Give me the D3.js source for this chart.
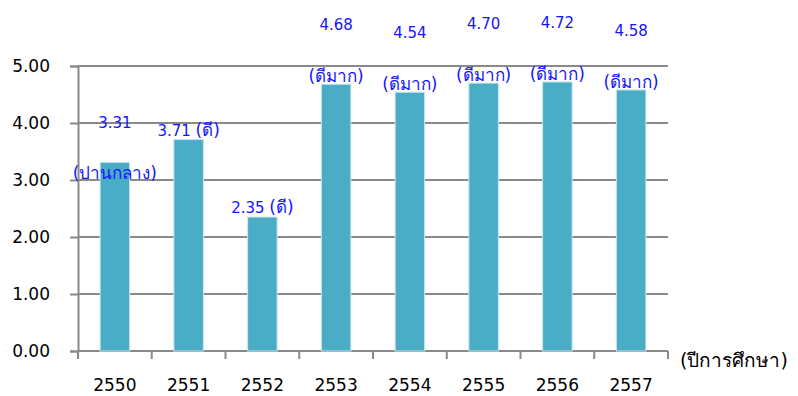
<!DOCTYPE html>
<html>
<head>
<meta charset="utf-8">
<script src="https://cdn.jsdelivr.net/npm/d3@7"></script>
<style>
  body { margin: 0; background: #fff; }
  svg text { font-family: Tahoma, "DejaVu Sans", sans-serif; }
</style>
</head>
<body>
<div id="chart"></div>
<script>
// data
const years = ["2550", "2551", "2552", "2553", "2554", "2555", "2556", "2557"];
const scores = [3.31, 3.71, 2.35, 4.68, 4.54, 4.70, 4.72, 4.58];
const levels = ["(ปานกลาง)", "(ดี)", "(ดี)", "(ดีมาก)", "(ดีมาก)", "(ดีมาก)", "(ดีมาก)", "(ดีมาก)"];
const yTicks = [0, 1, 2, 3, 4, 5];
const axisTitle = "(ปีการศึกษา)";

const width = 798, height = 396;
const margin = { top: 66, right: 130, bottom: 45, left: 78 };

const svg = d3.select("#chart").append("svg")
    .attr("width", width)
    .attr("height", height);

const x = d3.scaleBand()
    .domain(years)
    .range([margin.left, width - margin.right])
    .paddingInner(0.6)
    .paddingOuter(0.3);

const y = d3.scaleLinear()
    .domain([0, 5])
    .range([height - margin.bottom, margin.top]);

const gridColor = "#8a8a8a";

// gridlines + y axis
const yAxis = svg.append("g")
    .attr("transform", "translate(" + margin.left + ",0)")
    .call(d3.axisLeft(y).tickValues(yTicks).tickFormat(d3.format(".2f")).tickSize(8).tickPadding(20));
yAxis.select(".domain").attr("stroke", gridColor).attr("stroke-width", 2);
yAxis.selectAll(".tick line").attr("stroke", gridColor).attr("stroke-width", 2);
yAxis.selectAll(".tick text").attr("font-size", 17).attr("fill", "#000");

svg.append("g")
    .selectAll("line")
    .data(yTicks)
    .join("line")
    .attr("x1", margin.left)
    .attr("x2", width - margin.right)
    .attr("y1", d => y(d))
    .attr("y2", d => y(d))
    .attr("stroke", gridColor)
    .attr("stroke-width", 2);

// x axis ticks at band boundaries
const step = x.step();
const boundaries = d3.range(years.length + 1).map(i => margin.left + i * step);
svg.append("g")
    .selectAll("line")
    .data(boundaries)
    .join("line")
    .attr("x1", d => d)
    .attr("x2", d => d)
    .attr("y1", y(0))
    .attr("y2", y(0) + 8)
    .attr("stroke", gridColor)
    .attr("stroke-width", 2);

svg.append("g")
    .selectAll("text")
    .data(years)
    .join("text")
    .attr("x", d => x(d) + x.bandwidth() / 2)
    .attr("y", y(0) + 40)
    .attr("text-anchor", "middle")
    .attr("font-size", 17)
    .attr("fill", "#000")
    .text(d => d);

svg.append("text")
    .attr("x", width - margin.right + 12)
    .attr("y", y(0) + 16)
    .attr("font-size", 19)
    .attr("fill", "#000")
    .text(axisTitle);

// bars
svg.append("g")
    .selectAll("rect")
    .data(scores)
    .join("rect")
    .attr("x", (d, i) => x(years[i]))
    .attr("y", d => y(d))
    .attr("width", x.bandwidth())
    .attr("height", d => y(0) - y(d))
    .attr("fill", "#4bacc6")
    .attr("stroke", "#c9e6ee")
    .attr("stroke-width", 1);

// data labels
const blue = "#1414ff";
const thaiSize = 17;
const labels = svg.append("g").attr("fill", blue).attr("font-size", 15).attr("text-anchor", "middle");
scores.forEach((v, i) => {
    const cx = x(years[i]) + x.bandwidth() / 2;
    const top = y(v);
    if (levels[i] === "(ดี)") {
        const t = labels.append("text")
            .attr("x", cx)
            .attr("y", top - 9)
            .attr("dy", "0.35em");
        t.append("tspan").text(d3.format(".2f")(v) + " ");
        t.append("tspan").attr("font-size", thaiSize).text(levels[i]);
    } else {
        const off = i === 0 ? 11 : -8;
        labels.append("text")
            .attr("x", cx)
            .attr("y", top + off)
            .attr("dy", "0.35em")
            .attr("font-size", thaiSize)
            .text(levels[i]);
        labels.append("text")
            .attr("x", cx)
            .attr("y", top + off - 51)
            .attr("dy", "0.35em")
            .text(d3.format(".2f")(v));
    }
});
</script>
</body>
</html>
